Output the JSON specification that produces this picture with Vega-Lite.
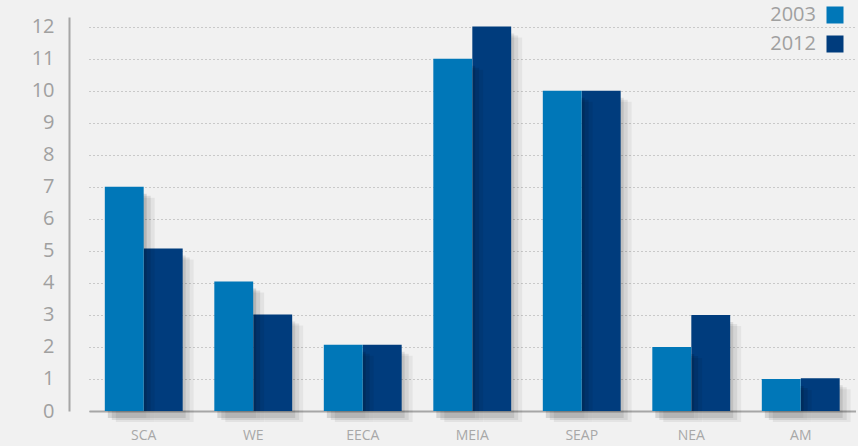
{
  "$schema": "https://vega.github.io/schema/vega-lite/v6.json",
  "width": 789,
  "height": 394,
  "autosize": {"type": "none"},
  "padding": {"left": 69, "top": 17, "right": 0, "bottom": 35},
  "background": "#f1f1f1",
  "data": {
    "values": [
      {"region": "SCA", "year": "2003", "value": 7},
      {"region": "SCA", "year": "2012", "value": 5.07},
      {"region": "WE", "year": "2003", "value": 4.04},
      {"region": "WE", "year": "2012", "value": 3.01},
      {"region": "EECA", "year": "2003", "value": 2.07},
      {"region": "EECA", "year": "2012", "value": 2.07},
      {"region": "MEIA", "year": "2003", "value": 11},
      {"region": "MEIA", "year": "2012", "value": 12},
      {"region": "SEAP", "year": "2003", "value": 10},
      {"region": "SEAP", "year": "2012", "value": 10},
      {"region": "NEA", "year": "2003", "value": 2},
      {"region": "NEA", "year": "2012", "value": 3},
      {"region": "AM", "year": "2003", "value": 1},
      {"region": "AM", "year": "2012", "value": 1.02}
    ]
  },
  "encoding": {
    "x": {
      "field": "region", "type": "nominal", "sort": null,
      "scale": {"range": [20, 786.5], "paddingInner": 0.29, "paddingOuter": 0.145},
      "axis": {"title": null, "labelAngle": 0, "ticks": false, "labelPadding": 17, "labelFontSize": 14, "labelColor": "#a8a8a8", "labelFont": "Open Sans", "domainColor": "#a6a6a6", "domainWidth": 2, "grid": false}
    },
    "y": {
      "field": "value", "type": "quantitative",
      "scale": {"domain": [0, 12.3], "nice": false},
      "axis": {"title": null, "values": [0,1,2,3,4,5,6,7,8,9,10,11,12], "ticks": false, "labelPadding": 15, "labelFontSize": 20, "labelColor": "#a0a0a0", "labelFont": "Open Sans", "domainColor": "#a6a6a6", "domainWidth": 2, "grid": true, "gridColor": "#a0a0a0", "gridDash": [1, 3], "gridWidth": 1}
    }
  },
  "layer": [
    {
      "transform": [{"filter": "datum.year == '2012'"}],
      "layer": [
        {"mark": {"type": "bar", "color": "#000000", "opacity": 0.09, "width": {"band": 0.5}, "xOffset": 22.5, "yOffset": 7}},
        {"mark": {"type": "bar", "color": "#000000", "opacity": 0.07, "width": {"band": 0.5}, "xOffset": 26.5, "yOffset": 9}},
        {"mark": {"type": "bar", "color": "#000000", "opacity": 0.05, "width": {"band": 0.5}, "xOffset": 30.5, "yOffset": 11}}
      ]
    },
    {
      "transform": [{"filter": "datum.year == '2012'"}],
      "mark": {"type": "bar", "width": {"band": 0.5}, "xOffset": 19.5},
      "encoding": {
        "color": {
          "field": "year", "type": "nominal",
          "scale": {"domain": ["2003", "2012"], "range": ["#0077b8", "#003c7d"]},
          "legend": {
            "orient": "none", "legendX": 756, "legendY": -12, "title": null, "padding": 0,
            "symbolType": "square", "symbolSize": 289, "symbolStrokeWidth": 0, "symbolOpacity": 1,
            "rowPadding": 9, "labelFontSize": 20, "labelColor": "#a0a0a0", "labelFont": "Open Sans",
            "labelAlign": "right", "labelOffset": -29
          }
        }
      }
    },
    {
      "transform": [{"filter": "datum.year == '2003'"}],
      "layer": [
        {"mark": {"type": "bar", "color": "#000000", "opacity": 0.12, "width": {"band": 0.5}, "xOffset": -16.5, "yOffset": 7}},
        {"mark": {"type": "bar", "color": "#000000", "opacity": 0.09, "width": {"band": 0.5}, "xOffset": -12.5, "yOffset": 9}},
        {"mark": {"type": "bar", "color": "#000000", "opacity": 0.06, "width": {"band": 0.5}, "xOffset": -8.5, "yOffset": 11}}
      ]
    },
    {
      "transform": [{"filter": "datum.year == '2003'"}],
      "mark": {"type": "bar", "width": {"band": 0.5}, "xOffset": -19.5},
      "encoding": {
        "color": {
          "field": "year", "type": "nominal",
          "scale": {"domain": ["2003", "2012"], "range": ["#0077b8", "#003c7d"]},
          "legend": {
            "orient": "none", "legendX": 756, "legendY": -12, "title": null, "padding": 0,
            "symbolType": "square", "symbolSize": 289, "symbolStrokeWidth": 0, "symbolOpacity": 1,
            "rowPadding": 9, "labelFontSize": 20, "labelColor": "#a0a0a0", "labelFont": "Open Sans",
            "labelAlign": "right", "labelOffset": -29
          }
        }
      }
    }
  ],
  "config": {"view": {"stroke": null}}
}
